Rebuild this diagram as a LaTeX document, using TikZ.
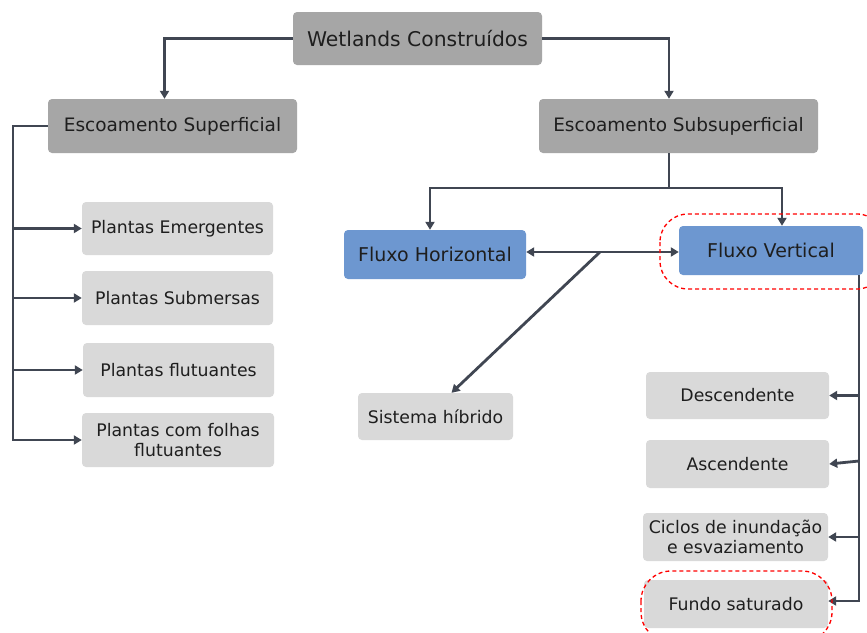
\documentclass[tikz,border=0pt]{standalone}
\usepackage{fontspec}
\setmainfont{DejaVu Sans}
\usetikzlibrary{arrows.meta}
\definecolor{boxdark}{RGB}{166,166,166}
\definecolor{boxlight}{RGB}{217,217,217}
\definecolor{boxblue}{RGB}{109,151,208}
\definecolor{linegray}{RGB}{64,70,82}
\definecolor{txt}{RGB}{30,30,30}
\tikzset{
	box/.style={rounded corners=4pt,text=txt,align=center,inner sep=0pt},
	topbox/.style={box,fill=boxdark,font=\fontsize{18.5}{22}\selectfont},
	subbox/.style={box,fill=boxlight,font=\fontsize{17.3}{19.5}\selectfont},
	flowbox/.style={box,fill=boxblue,font=\fontsize{19}{22}\selectfont},
	conn/.style={line width=2.8pt,draw=linegray,-{Triangle[length=8pt,width=9pt]}},
	link/.style={line width=2.8pt,draw=linegray},
	highlight/.style={draw=red,line width=1.3pt,dash pattern=on 4pt off 3pt,rounded corners=28pt}
}
\begin{document}
\begin{tikzpicture}[x=1pt,y=-1pt]
	\useasboundingbox[fill=white] (0,0) rectangle (867,632);
	\node[topbox,font=\fontsize{20.3}{24}\selectfont,minimum width=249pt,minimum height=53pt] (wc) at (417.5,38.5) {Wetlands Construídos};
	\node[topbox,minimum width=249pt,minimum height=54pt] (esup) at (172.5,126) {Escoamento Superficial};
	\node[topbox,minimum width=279pt,minimum height=54pt] (esub) at (678.5,126) {Escoamento Subsuperficial};
	\node[subbox,minimum width=191pt,minimum height=53pt] (pe) at (177.5,228.5) {Plantas Emergentes};
	\node[subbox,minimum width=191pt,minimum height=54pt] (ps) at (177.5,298) {Plantas Submersas};
	\node[subbox,minimum width=191pt,minimum height=54pt] (pf) at (178.5,370) {Plantas flutuantes};
	\node[subbox,minimum width=192pt,minimum height=54pt] (pc) at (178,440) {Plantas com folhas\\flutuantes};
	\node[flowbox,minimum width=182pt,minimum height=49pt] (fh) at (435,254.5) {Fluxo Horizontal};
	\node[flowbox,minimum width=184pt,minimum height=49pt] (fv) at (771,250.5) {Fluxo Vertical};
	\node[subbox,minimum width=155pt,minimum height=47pt] (sh) at (435.5,416.5) {Sistema híbrido};
	\node[subbox,minimum width=183pt,minimum height=47pt] (de) at (737.5,395.5) {Descendente};
	\node[subbox,minimum width=183pt,minimum height=48pt] (as) at (737.5,464) {Ascendente};
	\node[subbox,minimum width=185pt,minimum height=48pt] (ci) at (735.5,537) {Ciclos de inundação\\e esvaziamento};
	\node[subbox,minimum width=184pt,minimum height=48pt] (fs) at (736,604) {Fundo saturado};
	\coordinate (lbus) at (13,126);
	\coordinate (rj) at (669,188);
	\coordinate (hyb) at (600,252);
	\coordinate (rbus) at (859,275);
	\draw[conn] (wc.west) -| ([xshift=-8pt]esup.north);
	\draw[conn] (wc.east) -| ([xshift=-9.5pt]esub.north);
	\draw[conn] (esup.west) -| (lbus |- pc.west) -- (pc.west);
	\foreach \n in {pe,ps,pf} \draw[conn] (lbus |- \n.west) -- (\n.west);
	\draw[link] ([xshift=-9.5pt]esub.south) -- (rj);
	\draw[conn] (rj) -| ([xshift=-5pt]fh.north);
	\draw[conn] (rj) -| ([xshift=11pt]fv.north);
	\draw[conn,{Triangle[length=8pt,width=9pt]}-{Triangle[length=8pt,width=9pt]}] (fh.east |- hyb) -- (fv.west |- hyb);
	\draw[conn] (hyb) -- ([xshift=16pt]sh.north);
	\draw[conn] (rbus) |- ([yshift=3pt]fs.east);
	\foreach \n in {de,ci} \draw[conn] (rbus |- \n.east) -- (\n.east);
	\draw[conn] ([yshift=3pt]rbus |- as.east) -- (as.east);
	\draw[highlight] (660,214) rectangle (885,289);
	\draw[highlight,rounded corners=30pt] (641,571) rectangle (832,642);
\end{tikzpicture}
\end{document}
